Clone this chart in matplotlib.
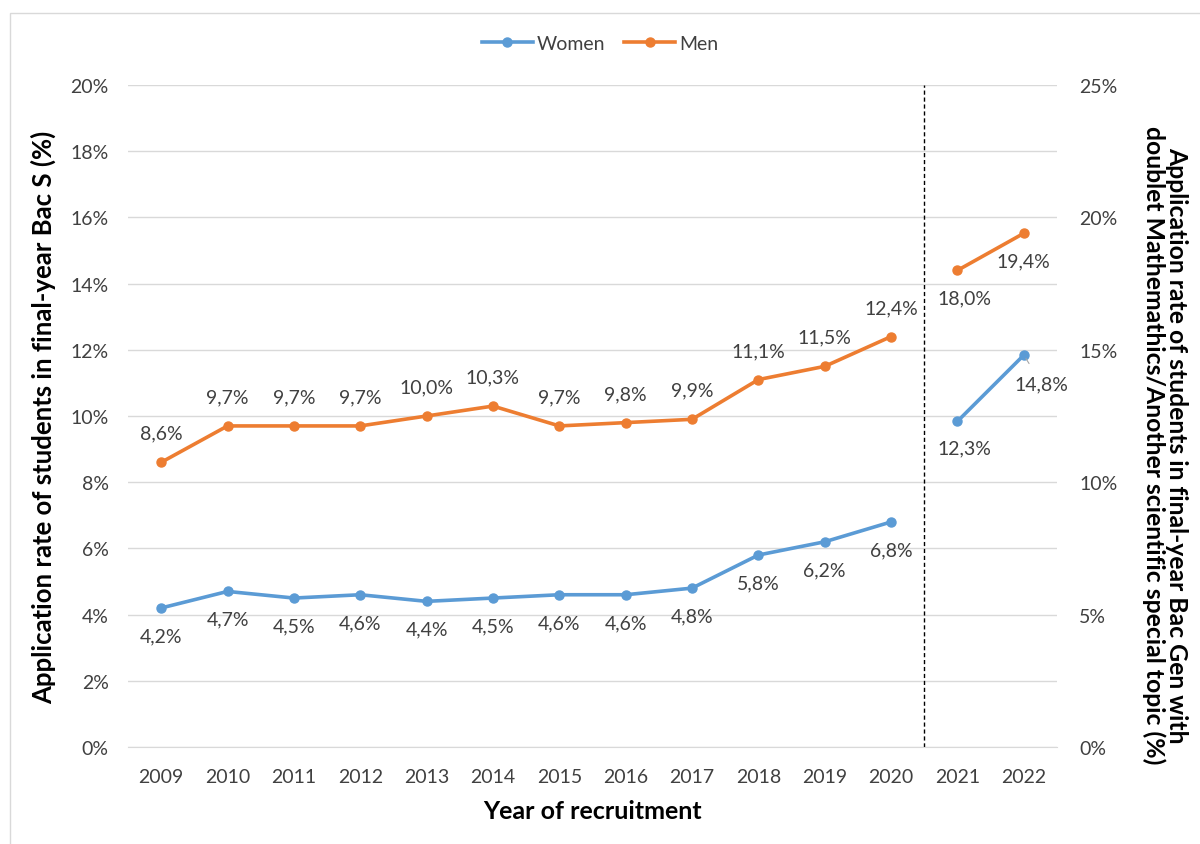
import matplotlib
matplotlib.use("Agg")
import matplotlib.pyplot as plt
from matplotlib.patches import Rectangle
from matplotlib.lines import Line2D

years = ["2009", "2010", "2011", "2012", "2013", "2014", "2015", "2016",
         "2017", "2018", "2019", "2020", "2021", "2022"]
women_bac_s = [4.2, 4.7, 4.5, 4.6, 4.4, 4.5, 4.6, 4.6, 4.8, 5.8, 6.2, 6.8]
men_bac_s = [8.6, 9.7, 9.7, 9.7, 10.0, 10.3, 9.7, 9.8, 9.9, 11.1, 11.5, 12.4]
women_bac_gen = [12.3, 14.8]
men_bac_gen = [18.0, 19.4]

left_ticks = [0, 2, 4, 6, 8, 10, 12, 14, 16, 18, 20]
right_ticks = [0, 5, 10, 15, 20, 25]

C_W = "#5B9BD5"
C_M = "#ED7D31"
FONT = ["Lato", "DejaVu Sans"]
plt.rcParams['font.family'] = FONT

fig = plt.figure(figsize=(12, 8.45), dpi=100)
fig.patches.append(Rectangle((10/1200, -0.1), 1.2, 1.1 - 14/845,
                             transform=fig.transFigure, fill=False,
                             edgecolor="#D9D9D9", lw=1))
ax = fig.add_axes([128/1200, 1-748/845, (1057-128)/1200, (748-86)/845])
ax2 = ax.twinx()

n_old = len(men_bac_s)
x_old = list(range(n_old))
x_new = list(range(n_old, len(years)))

def fmt(v):
    return f"{v:.1f}%".replace(".", ",")

lw = 2.6
ms = 6.5
ax.plot(x_old, women_bac_s, color=C_W, lw=lw, marker="o", ms=ms, zorder=3)
ax.plot(x_old, men_bac_s, color=C_M, lw=lw, marker="o", ms=ms, zorder=3)
ax2.plot(x_new, women_bac_gen, color=C_W, lw=lw, marker="o", ms=ms, zorder=3)
ax2.plot(x_new, men_bac_gen, color=C_M, lw=lw, marker="o", ms=ms, zorder=3)

fs_lab = 14
for x, v in zip(x_old, men_bac_s):
    ax.annotate(fmt(v), (x, v), xytext=(0, 21), textcoords="offset points",
                ha="center", va="center", fontsize=fs_lab, color="#404040")
for x, v in zip(x_old, women_bac_s):
    ax.annotate(fmt(v), (x, v), xytext=(0, -20), textcoords="offset points",
                ha="center", va="center", fontsize=fs_lab, color="#404040")
ax2.annotate(fmt(men_bac_gen[0]), (x_new[0], men_bac_gen[0]), xytext=(5, -20),
             textcoords="offset points", ha="center", va="center",
             fontsize=fs_lab, color="#404040")
ax2.annotate(fmt(men_bac_gen[1]), (x_new[1], men_bac_gen[1]), xytext=(0, -20),
             textcoords="offset points", ha="center", va="center",
             fontsize=fs_lab, color="#404040")
ax2.annotate(fmt(women_bac_gen[0]), (x_new[0], women_bac_gen[0]), xytext=(5, -19),
             textcoords="offset points", ha="center", va="center",
             fontsize=fs_lab, color="#404040")
ax2.annotate(fmt(women_bac_gen[1]), (x_new[1], women_bac_gen[1]), xytext=(13, -21),
             textcoords="offset points", ha="center", va="center",
             fontsize=fs_lab, color="#404040",
             arrowprops=dict(arrowstyle="-", color="#A6A6A6", lw=0.8,
                             shrinkA=8, shrinkB=3))

ax.axvline(n_old - 0.5, color="black", lw=1, ls=(0, (3, 2)), zorder=2)

ax.set_xlim(-0.5, len(years) - 0.5)
ax.set_ylim(0, 20)
ax2.set_ylim(0, 25)
ax.set_xticks(range(len(years)))
ax.set_xticklabels(years)
ax.set_yticks(left_ticks)
ax.set_yticklabels([f"{t}%" for t in left_ticks])
ax2.set_yticks(right_ticks)
ax2.set_yticklabels([f"{t}%" for t in right_ticks])
ax.grid(axis="y", color="#D9D9D9", lw=1)
ax.set_axisbelow(True)
for a in (ax, ax2):
    for s in a.spines.values():
        s.set_visible(False)
    a.tick_params(length=0, labelsize=14, labelcolor="#404040")
ax.spines["bottom"].set_visible(True)
ax.spines["bottom"].set_color("#D9D9D9")
ax.tick_params(axis="y", pad=14)
ax2.tick_params(axis="y", pad=16)
ax.tick_params(axis="x", pad=15)

ax.set_xlabel("Year of recruitment", fontsize=18, fontweight="bold",
              labelpad=10, color="black")
ax.set_ylabel("Application rate of students in final-year Bac S (%)",
              fontsize=18.5, fontweight="bold", labelpad=10, color="black")
ax2.set_ylabel("Application rate of students in final-year Bac Gen with\n"
               "doublet Mathemathics/Another scientific special topic (%)",
               fontsize=17.8, fontweight="bold", rotation=-90,
               color="black", linespacing=0.95, ha="center", va="center")
ax2.yaxis.set_label_coords((1165 - 128) / 929, (748 - 445) / 662)

handles = [Line2D([], [], color=C_W, lw=lw, marker="o", ms=ms),
           Line2D([], [], color=C_M, lw=lw, marker="o", ms=ms)]
fig.legend(handles, ["Women", "Men"], loc="center", bbox_to_anchor=(0.5, 1-44/845),
           ncol=2, frameon=False, fontsize=14, handlelength=2.6,
           columnspacing=1.0, handletextpad=0.2, labelcolor="#404040")

fig.savefig("out.png", dpi=100)
